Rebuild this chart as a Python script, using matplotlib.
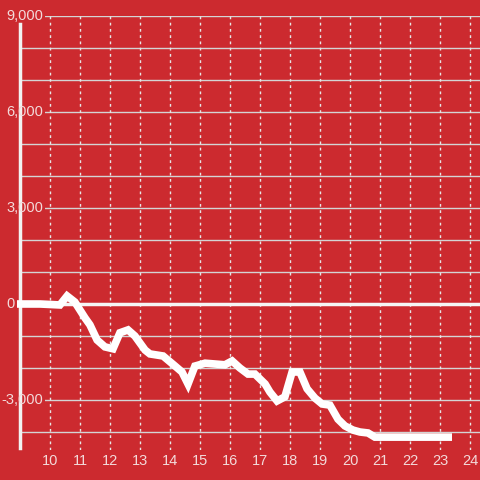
import numpy as np
import matplotlib
matplotlib.use("Agg")
import matplotlib.pyplot as plt

# chart data
x_vals = [8.9, 9.67, 10.33, 10.57, 10.83, 11.17, 11.33, 11.57, 11.83, 12.1, 12.33, 12.6,
          12.83, 13.17, 13.33, 13.77, 14.17, 14.4, 14.6, 14.83, 15.17, 15.5, 15.83,
          16.07, 16.33, 16.6, 16.83, 17.17, 17.33, 17.57, 17.83, 18.07, 18.33, 18.57,
          18.83, 19.07, 19.33, 19.6, 19.83, 20.1, 20.33, 20.6, 20.83, 23.4]
y_vals = [0, 0, -30, 250, 60, -440, -650, -1125, -1340, -1400, -900, -810,
          -1000, -1440, -1560, -1625, -1940, -2125, -2500, -1940, -1850, -1875, -1900,
          -1780, -2000, -2190, -2190, -2500, -2750, -3030, -2900, -2125, -2125, -2650,
          -2940, -3125, -3160, -3600, -3810, -3940, -4000, -4030, -4160, -4160]

x_ticks = list(range(10, 25))
y_grid = list(range(-4000, 9001, 1000))
y_labels = [9000, 6000, 3000, 0, -3000]

bg = "#cc2a2f"
txt = "#f3dada"

fig = plt.figure(figsize=(4.8, 4.8), dpi=100, facecolor=bg)
ax = fig.add_axes([20 / 480, 30 / 480, 460 / 480, 434 / 480])
ax.set_facecolor(bg)
ax.set_xlim(9, 24.333)
ax.set_ylim(-4562.5, 9000)

for s in ["top", "right", "bottom"]:
    ax.spines[s].set_visible(False)
ax.spines["left"].set_color("#f2f2f2")
ax.spines["left"].set_linewidth(2.5)
ax.spines["left"].set_bounds(-4500, 8750)
ax.spines["left"].set_zorder(2)

for v in y_grid:
    ax.axhline(v, color="#d4d4d4", linewidth=1, zorder=1)
for v in x_ticks:
    ax.axvline(v, color="#e6e6e6", linewidth=1, linestyle=(0, (2, 2.5)), zorder=1)

ax.axhline(0, color="#f5f5f5", linewidth=2.5, zorder=2.5)

ax.plot(x_vals, y_vals, color="white", linewidth=5.5, solid_joinstyle="miter",
        solid_capstyle="butt", zorder=4, clip_on=False)

ax.set_xticks([])
ax.set_yticks([])

for v in y_labels:
    if v == 0:
        lx = 8.83
    else:
        lx = 9.77
    # background box hides the grid line behind the label, spine stays on top
    ax.text(lx, v, "{:,}".format(v), ha="right", va="center", color=(0, 0, 0, 0),
            fontsize=10.5, family="Liberation Sans", zorder=1.5, clip_on=False,
            bbox=dict(facecolor=bg, edgecolor="none", pad=1.2))
    ax.text(lx, v, "{:,}".format(v), ha="right", va="center", color=txt,
            fontsize=10.5, family="Liberation Sans", zorder=5, clip_on=False)

for v in x_ticks:
    ax.text(v, -4900, str(v), ha="center", va="center", color=txt,
            fontsize=10.5, family="Liberation Sans", clip_on=False)

fig.savefig("out.png", dpi=100, facecolor=bg)
